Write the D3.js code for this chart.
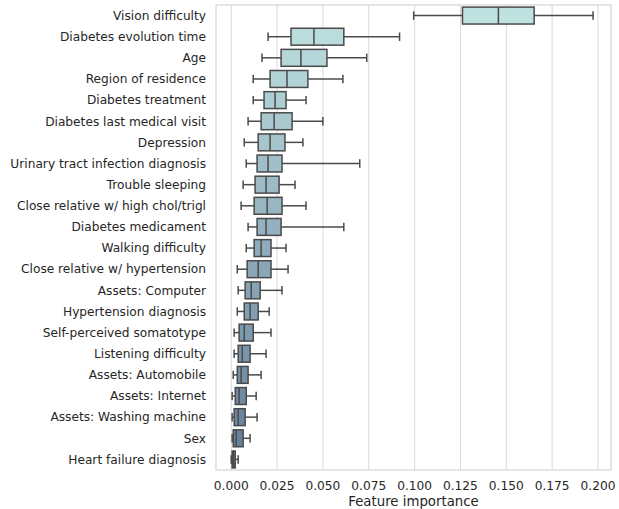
<!DOCTYPE html>
<html><head><meta charset="utf-8">
<script src="https://cdn.jsdelivr.net/npm/d3@7"></script>
<style>body{margin:0;background:#fff}text{font-family:"DejaVu Sans",sans-serif;fill:#262626}</style>
</head><body><div id="chart"></div>
<script>
const features = ['Vision difficulty', 'Diabetes evolution time', 'Age', 'Region of residence', 'Diabetes treatment',
  'Diabetes last medical visit', 'Depression', 'Urinary tract infection diagnosis', 'Trouble sleeping',
  'Close relative w/ high chol/trigl', 'Diabetes medicament', 'Walking difficulty', 'Close relative w/ hypertension',
  'Assets: Computer', 'Hypertension diagnosis', 'Self-perceived somatotype', 'Listening difficulty',
  'Assets: Automobile', 'Assets: Internet', 'Assets: Washing machine', 'Sex', 'Heart failure diagnosis']
const whiskerLow = [0.0995, 0.0201, 0.0168, 0.012, 0.012, 0.0092, 0.0071, 0.0082, 0.0065, 0.0054, 0.0092, 0.0082, 0.0033, 0.0038, 0.0033, 0.0016, 0.0016, 0.0011, 0.0005, 0.0005, 0.0005, 0]
const q1 = [0.1261, 0.0326, 0.0272, 0.0212, 0.0179, 0.0163, 0.0147, 0.0141, 0.013, 0.0125, 0.0141, 0.0125, 0.0087, 0.0076, 0.0071, 0.0043, 0.0038, 0.0033, 0.0022, 0.0016, 0.0011, 0.0005]
const median = [0.1457, 0.0451, 0.038, 0.0304, 0.0239, 0.0234, 0.0212, 0.0201, 0.019, 0.0196, 0.019, 0.0163, 0.0147, 0.0109, 0.0103, 0.0071, 0.006, 0.0054, 0.0043, 0.0038, 0.0027, 0.0011]
const q3 = [0.1652, 0.0614, 0.0522, 0.0418, 0.0299, 0.0332, 0.0293, 0.0277, 0.0261, 0.0277, 0.0272, 0.0217, 0.0217, 0.0158, 0.0147, 0.012, 0.0103, 0.0092, 0.0082, 0.0076, 0.0065, 0.0022]
const whiskerHigh = [0.1973, 0.0918, 0.0739, 0.0609, 0.0408, 0.05, 0.0391, 0.0701, 0.0348, 0.0408, 0.0614, 0.0299, 0.031, 0.0277, 0.0207, 0.0217, 0.019, 0.0163, 0.0136, 0.0141, 0.0103, 0.0038]
const ticks = [0, 0.025, 0.05, 0.075, 0.1, 0.125, 0.15, 0.175, 0.2]

const margin = { top: 5, right: 8, bottom: 39, left: 216 }
const width = 619 - margin.left - margin.right
const height = 509 - margin.top - margin.bottom

const svg = d3.select('#chart').append('svg')
  .attr('width', 619).attr('height', 509)
  .append('g').attr('transform', 'translate(' + margin.left + ',' + margin.top + ')')

const x = d3.scaleLinear().domain([-0.0083, 0.2071]).range([0, width])
const y = d3.scaleBand().domain(features).range([0, height]).paddingInner(0.2).paddingOuter(0.1)
const color = d3.scaleLinear().domain([0, features.length - 1]).range(['#bfe1e0', '#637c98']).interpolate(d3.interpolateRgb)

// grid
svg.selectAll('.grid').data(ticks).enter().append('line')
  .attr('x1', d => x(d)).attr('x2', d => x(d)).attr('y1', 0).attr('y2', height)
  .attr('stroke', '#d9d9d9').attr('stroke-width', 1)
svg.append('rect').attr('width', width).attr('height', height).attr('fill', 'none').attr('stroke', '#cccccc')

const rows = features.map((f, i) => ({ f, i, lo: whiskerLow[i], q1: q1[i], med: median[i], q3: q3[i], hi: whiskerHigh[i] }))
const g = svg.selectAll('.box').data(rows).enter().append('g')
const stroke = '#4a4a4a'
g.each(function (d) {
  const s = d3.select(this)
  const bw = y.bandwidth()
  const cy = y(d.f) + bw / 2
  s.append('line').attr('x1', x(d.lo)).attr('x2', x(d.q1)).attr('y1', cy).attr('y2', cy).attr('stroke', stroke).attr('stroke-width', 1.5)
  s.append('line').attr('x1', x(d.q3)).attr('x2', x(d.hi)).attr('y1', cy).attr('y2', cy).attr('stroke', stroke).attr('stroke-width', 1.5)
  ;[d.lo, d.hi].forEach(v => s.append('line').attr('x1', x(v)).attr('x2', x(v)).attr('y1', cy - bw / 4).attr('y2', cy + bw / 4).attr('stroke', stroke).attr('stroke-width', 1.5))
  s.append('rect').attr('x', x(d.q1)).attr('y', y(d.f)).attr('width', x(d.q3) - x(d.q1)).attr('height', bw)
    .attr('fill', color(d.i)).attr('stroke', stroke).attr('stroke-width', 1.5)
  s.append('line').attr('x1', x(d.med)).attr('x2', x(d.med)).attr('y1', y(d.f)).attr('y2', y(d.f) + bw).attr('stroke', stroke).attr('stroke-width', 1.5)
})

// labels
svg.selectAll('.ylab').data(features).enter().append('text')
  .attr('x', -10).attr('y', d => y(d) + y.bandwidth() / 2).attr('dy', '0.35em')
  .attr('text-anchor', 'end').attr('font-size', 12.2).text(d => d)
svg.selectAll('.xlab').data(ticks).enter().append('text')
  .attr('x', d => x(d)).attr('y', height + 20).attr('text-anchor', 'middle').attr('font-size', 12.2)
  .text(d => d3.format('.3f')(d))
svg.append('text').attr('x', width / 2).attr('y', height + 36).attr('text-anchor', 'middle').attr('font-size', 13.3)
  .text('Feature importance')
</script></body></html>
